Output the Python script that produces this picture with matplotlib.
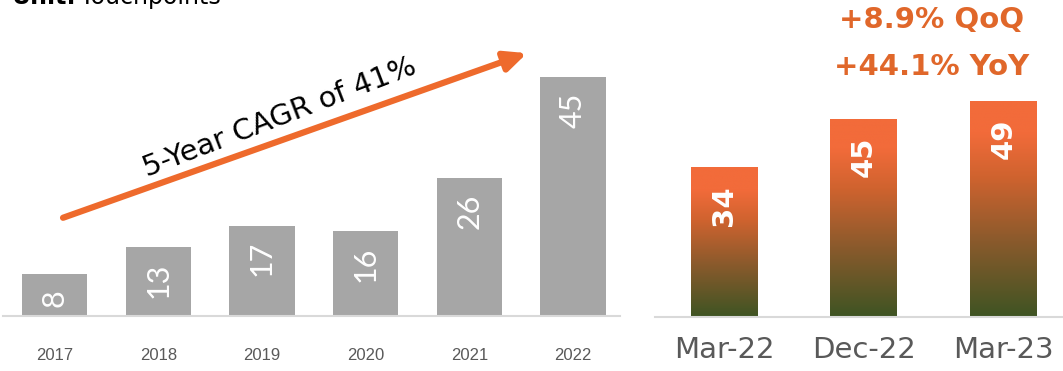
import numpy as np
import matplotlib
matplotlib.use("Agg")
import matplotlib.pyplot as plt
from matplotlib.colors import LinearSegmentedColormap

# data
years = ["2017", "2018", "2019", "2020", "2021", "2022"]
year_vals = [8, 13, 17, 16, 26, 45]
quarters = ["Mar-22", "Dec-22", "Mar-23"]
quarter_vals = [34, 45, 49]
cagr_text = "5-Year CAGR of 41%"
growth_lines = ["+8.9% QoQ", "+44.1% YoY"]

W, H = 1063, 371
plt.rcParams["font.family"] = ["DejaVu Sans"]
fig = plt.figure(figsize=(W / 100, H / 100), dpi=100)

grey = "#A6A6A6"
axis_col = "#D9D9D9"
tick_col = "#595959"
orange = "#E0672A"

# ---------- left chart ----------
ax1 = fig.add_axes([3 / W, (H - 316) / H, 617 / W, 306 / H])
x1 = np.arange(len(years))
ax1.bar(x1, year_vals, width=0.63, color=grey, zorder=2)
ax1.set_xlim(-0.497, 5.453)
ax1.set_ylim(0, 306 / 5.31)
for xi, v in zip(x1, year_vals):
    ax1.annotate(str(v), (xi, v), xytext=(0, -11), textcoords="offset points",
                 rotation=90, ha="center", va="top", color="white",
                 fontsize=22, family=["Lato", "DejaVu Sans"], fontweight="normal",
                 zorder=3)
ax1.set_xticks(x1)
ax1.set_xticklabels(years, fontsize=12, color=tick_col,
                    family=["Liberation Sans Narrow", "Liberation Sans"])
ax1.tick_params(axis="x", length=0, pad=23)
ax1.set_yticks([])
for s in ["top", "right", "left"]:
    ax1.spines[s].set_visible(False)
ax1.spines["bottom"].set_color(axis_col)
ax1.spines["bottom"].set_linewidth(1.5)

# arrow + CAGR text
ax1.annotate("", xy=(4.556, 49.5), xytext=(0.082, 18.5),
             arrowprops=dict(arrowstyle="-|>,head_length=1.3,head_width=0.6",
                             color="#EE6A2C", lw=4.5, shrinkA=0, shrinkB=0),
             zorder=4)
ax1.text(2.17, 37.3, cagr_text, rotation=21, ha="center", va="center",
         fontsize=21, color="black", rotation_mode="anchor", zorder=5)

# ---------- right chart ----------
ax2 = fig.add_axes([655 / W, (H - 317) / H, 408 / W, 317 / H])
x2 = np.arange(len(quarters))
bw = 0.48
cmap = LinearSegmentedColormap.from_list(
    "og", [(0.0, "#3E5423"), (0.35, "#8A5A2C"), (0.65, "#D0632F"),
           (0.85, "#F26B3A"), (1.0, "#F26B3A")])
grad = np.linspace(0, 1, 256).reshape(-1, 1)
for xi, v in zip(x2, quarter_vals):
    bar = ax2.bar(xi, v, width=bw, color="none", zorder=2)[0]
    im = ax2.imshow(grad, cmap=cmap, aspect="auto", origin="lower",
                    extent=[xi - bw / 2, xi + bw / 2, 0, v], zorder=2)
    im.set_clip_path(bar)
    ax2.annotate(str(v), (xi, v), xytext=(0, -13), textcoords="offset points",
                 rotation=90, ha="center", va="top", color="white",
                 fontsize=21, fontweight="bold", zorder=3)
ax2.set_xlim(-0.498, 2.427)
ax2.set_ylim(0, 317 / 4.41)
ax2.set_xticks(x2)
ax2.set_xticklabels(quarters, fontsize=21, color=tick_col)
ax2.tick_params(axis="x", length=0, pad=14)
ax2.set_yticks([])
for s in ["top", "right", "left"]:
    ax2.spines[s].set_visible(False)
ax2.spines["bottom"].set_color(axis_col)
ax2.spines["bottom"].set_linewidth(1.5)

fig.text(932 / W, 1 - 20 / H, growth_lines[0], ha="center", va="center",
         fontsize=21, fontweight="bold", color=orange)
fig.text(932 / W, 1 - 67 / H, growth_lines[1], ha="center", va="center",
         fontsize=21, fontweight="bold", color=orange)

# header, mostly cut off at the top edge as in the source
fig.text(12 / W, 1 - 4 / H, "Unit:", ha="left", va="baseline",
         fontsize=17, fontweight="bold", color="black")
fig.text(80 / W, 1 - 4 / H, "Touchpoints", ha="left", va="baseline",
         fontsize=17, color="black")

fig.savefig("out.png", dpi=100)
